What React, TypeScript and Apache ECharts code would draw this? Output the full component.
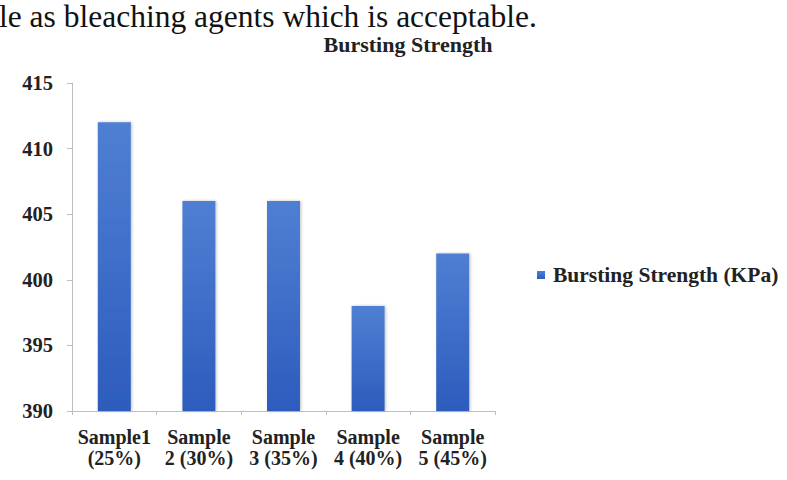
import React, { useEffect, useRef } from "react";
import * as echarts from "echarts";

const categories = ["Sample1\n(25%)", "Sample\n2 (30%)", "Sample\n3 (35%)", "Sample\n4 (40%)", "Sample\n5 (45%)"];
const values = [412, 406, 406, 398, 402];
const seriesName = "Bursting Strength (KPa)";
const titleText = "Bursting Strength";
const headerText = "le as bleaching agents which is acceptable.";

export default function App() {
  const ref = useRef<HTMLDivElement>(null);
  useEffect(() => {
    document.body.style.margin = "0";
    const chart = echarts.init(ref.current!, undefined, { renderer: "svg" });
    const serif = "'Liberation Serif', 'Times New Roman', serif";
    chart.setOption({
      animation: false,
      backgroundColor: "#ffffff",
      title: {
        text: titleText,
        left: 403,
        top: 28,
        textAlign: "center",
        textStyle: { fontFamily: serif, fontWeight: "bold", fontSize: 22, color: "#222" },
      },
      graphic: [
        {
          type: "text",
          left: -1,
          top: 0,
          style: {
            text: headerText,
            font: "31.5px 'Liberation Serif', serif",
            lineHeight: 22,
            fill: "#111",
          },
        },
      ],
      legend: {
        left: 532,
        top: 259,
        icon: "rect",
        itemWidth: 8,
        itemHeight: 8,
        itemGap: 4,
        textStyle: {
          fontFamily: serif,
          fontWeight: "bold",
          fontSize: 21.5,
          color: "#222",
          padding: [0, 0, 0, 3],
        },
        data: [seriesName],
      },
      grid: { left: 72, right: 292, top: 83, bottom: 69 },
      xAxis: {
        type: "category",
        data: categories,
        axisLine: { lineStyle: { color: "#bfbfbf", width: 1 } },
        axisTick: { show: true, length: 4, lineStyle: { color: "#bfbfbf" } },
        axisLabel: {
          interval: 0,
          margin: 15,
          fontFamily: serif,
          fontWeight: "bold",
          fontSize: 20,
          lineHeight: 21,
          color: "#222",
        },
      },
      yAxis: {
        type: "value",
        min: 390,
        max: 415,
        interval: 5,
        splitLine: { show: false },
        axisLine: { show: true, lineStyle: { color: "#bfbfbf", width: 1 } },
        axisTick: { show: true, length: 5, lineStyle: { color: "#bfbfbf" } },
        axisLabel: { margin: 19, fontFamily: serif, fontWeight: "bold", fontSize: 20.5, color: "#222" },
      },
      series: [
        {
          name: seriesName,
          type: "bar",
          data: values,
          barWidth: "39%",
          itemStyle: {
            color: new echarts.graphic.LinearGradient(0, 0, 0, 1, [
              { offset: 0, color: "#4f7fd3" },
              { offset: 1, color: "#2d5cbd" },
            ]),
            shadowBlur: 3,
            shadowColor: "rgba(0,0,0,0.25)",
            shadowOffsetX: 1,
          },
        },
      ],
    });
    return () => chart.dispose();
  }, []);
  return <div ref={ref} style={{ width: 787, height: 480 }} />;
}
